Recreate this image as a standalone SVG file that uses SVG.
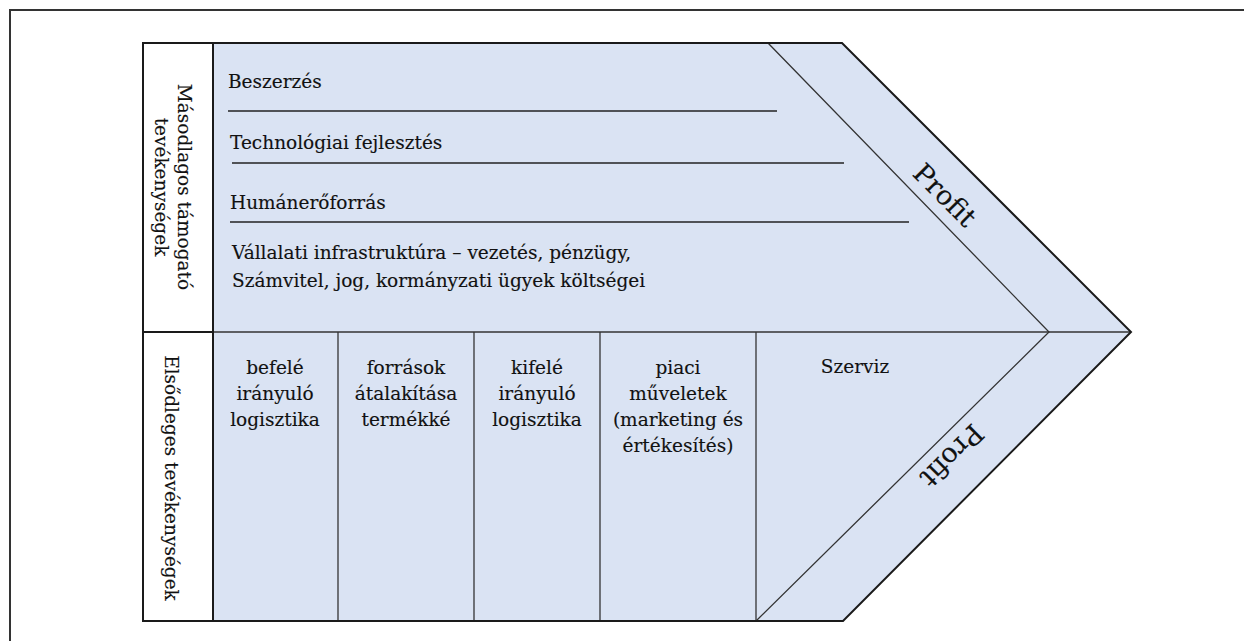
<svg xmlns="http://www.w3.org/2000/svg" width="1244" height="641" viewBox="0 0 1244 641">
  <style>
    .t { font-family: "DejaVu Serif", "Liberation Serif", serif; font-size: 18.5px; fill: #111; stroke: #111; stroke-width: 0.15; }
    .c { text-anchor: middle; }
    .big { font-size: 27px; }
    .edge { fill: none; stroke: #1a1a1a; stroke-width: 2; }
    .thin { fill: none; stroke: #333; stroke-width: 1.3; }
    .rule { fill: none; stroke: #222; stroke-width: 1.4; }
  </style>
  <rect width="1244" height="641" fill="#ffffff"/>
  <!-- page frame -->
  <path d="M10,641 V10 H1244" fill="none" stroke="#333" stroke-width="2"/>

  <!-- value chain body -->
  <g id="chain">
    <polygon points="143,43 842,43 1131,332 843,621 143,621" fill="#dae3f3"/>
    <rect x="143" y="43" width="70" height="578" fill="#ffffff"/>
  </g>

  <g id="connectors">
    <!-- profit band -->
    <polyline class="thin" points="768,43 1049,332 756,621"/>
    <!-- row divider -->
    <line class="edge" x1="143" y1="332" x2="213" y2="332"/>
    <line class="thin" x1="213" y1="332" x2="1131" y2="332"/>
    <!-- label column divider -->
    <line class="edge" x1="213" y1="43" x2="213" y2="621"/>
    <!-- primary activity columns -->
    <line class="thin" x1="338" y1="332" x2="338" y2="621"/>
    <line class="thin" x1="474" y1="332" x2="474" y2="621"/>
    <line class="thin" x1="600" y1="332" x2="600" y2="621"/>
    <line class="thin" x1="756" y1="332" x2="756" y2="621"/>
    <!-- support activity rules -->
    <line class="rule" x1="228" y1="111" x2="777" y2="111"/>
    <line class="rule" x1="232" y1="163" x2="844" y2="163"/>
    <line class="rule" x1="230" y1="222" x2="909" y2="222"/>
    <!-- outline -->
    <polygon class="edge" points="143,43 842,43 1131,332 843,621 143,621"/>
  </g>

  <g id="support-label">
    <text class="t c" transform="translate(178,187) rotate(90)">Másodlagos támogató</text>
    <text class="t c" transform="translate(155,187) rotate(90)">tevékenységek</text>
  </g>
  <g id="primary-label">
    <text class="t c" transform="translate(165,478) rotate(90)">Elsődleges tevékenységek</text>
  </g>

  <g id="support-activities">
    <text class="t" x="228" y="88">Beszerzés</text>
    <text class="t" x="230" y="149">Technológiai fejlesztés</text>
    <text class="t" x="230" y="209">Humánerőforrás</text>
    <text class="t" x="232" y="259">Vállalati infrastruktúra – vezetés, pénzügy,</text>
    <text class="t" x="232" y="287">Számvitel, jog, kormányzati ügyek költségei</text>
  </g>

  <g id="inbound">
    <text class="t c" x="275" y="374">befelé</text>
    <text class="t c" x="275" y="400">irányuló</text>
    <text class="t c" x="275" y="426">logisztika</text>
  </g>
  <g id="operations">
    <text class="t c" x="406" y="374">források</text>
    <text class="t c" x="406" y="400">átalakítása</text>
    <text class="t c" x="406" y="426">termékké</text>
  </g>
  <g id="outbound">
    <text class="t c" x="537" y="374">kifelé</text>
    <text class="t c" x="537" y="400">irányuló</text>
    <text class="t c" x="537" y="426">logisztika</text>
  </g>
  <g id="marketing">
    <text class="t c" x="678" y="374">piaci</text>
    <text class="t c" x="678" y="400">műveletek</text>
    <text class="t c" x="678" y="426">(marketing és</text>
    <text class="t c" x="678" y="452">értékesítés)</text>
  </g>
  <g id="service">
    <text class="t c" x="855" y="373">Szerviz</text>
  </g>

  <g id="profit">
    <text class="t big c" dominant-baseline="central" transform="translate(945,195) rotate(45)">Profit</text>
    <text class="t big c" dominant-baseline="central" transform="translate(952,456) rotate(135)">Profit</text>
  </g>
</svg>
